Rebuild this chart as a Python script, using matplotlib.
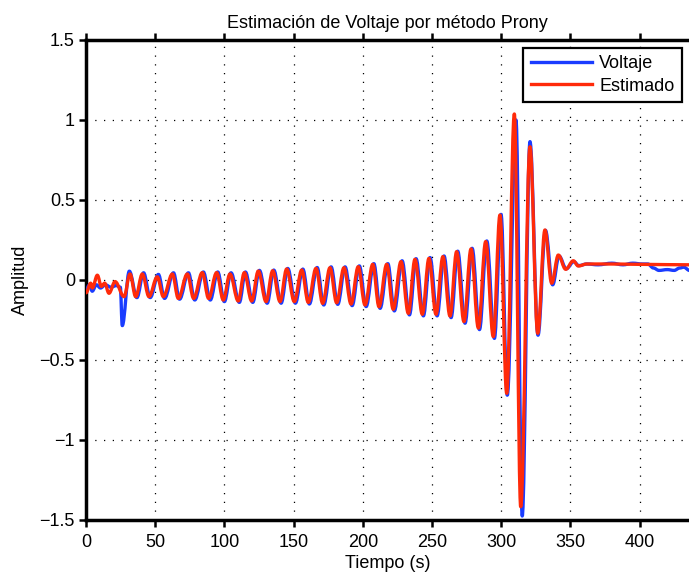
import matplotlib

matplotlib.use("Agg")
import matplotlib.pyplot as plt  # noqa: E402
from matplotlib.lines import Line2D  # noqa: E402
from matplotlib.patches import PathPatch  # noqa: E402
from matplotlib.path import Path  # noqa: E402

# extrema of the measured signal (time in s, amplitude)
volt_t = [0, 2.5, 4.5, 7.5, 10.5, 14.0, 18.0, 22.0, 24.8, 26.2, 31.3, 36.8, 41.6, 46.4, 52.3,
          56.8, 63.2, 67.6, 74.0, 78.6, 84.8, 89.8, 95.2, 100.0, 104.8, 110.8, 115.2, 120.5,
          125.3, 130.9, 135.7, 141.0, 145.8, 151.3, 156.7, 161.4, 167.0, 171.8, 177.1, 181.9,
          187.2, 192.3, 197.5, 202.4, 208.0, 212.5, 218.1, 222.8, 228.4, 233.7, 238.5, 243.8,
          248.6, 253.7, 258.7, 263.8, 268.6, 273.9, 279.0, 284.3, 289.6, 295.1, 299.9, 304.4,
          310.7, 315.2, 320.8, 326.6, 332.0, 337.2, 341.8, 347.0, 352.5, 356.0, 362, 370, 380,
          388, 395, 402, 406, 410, 414, 420, 425, 429, 432, 436]
volt_v = [-0.06, -0.03, -0.07, -0.03, -0.05, -0.03, -0.045, -0.035, -0.045, -0.285, 0.055,
          -0.11, 0.045, -0.11, 0.035, -0.115, 0.045, -0.12, 0.045, -0.125, 0.05, -0.125, 0.05,
          -0.135, 0.045, -0.14, 0.05, -0.14, 0.06, -0.145, 0.062, -0.145, 0.072, -0.145, 0.068,
          -0.15, 0.078, -0.156, 0.082, -0.152, 0.082, -0.16, 0.088, -0.166, 0.102, -0.177, 0.102,
          -0.193, 0.12, -0.218, 0.133, -0.224, 0.14, -0.224, 0.15, -0.235, 0.18, -0.27, 0.198,
          -0.31, 0.244, -0.365, 0.41, -0.72, 1.0, -1.475, 0.865, -0.345, 0.31, -0.03, 0.15, 0.07,
          0.115, 0.09, 0.10, 0.095, 0.105, 0.095, 0.105, 0.10, 0.10, 0.075, 0.06, 0.065, 0.06,
          0.075, 0.08, 0.06]

# extrema of the Prony estimate
est_t = [0, 3.4, 4.6, 8.2, 11.1, 13.5, 16.6, 21.0, 27.5, 31.8, 35.9, 40.7, 45.5, 51.5, 55.9,
         62.4, 66.7, 73.2, 77.8, 84.0, 88.6, 94.4, 99.2, 104.0, 110.0, 114.4, 119.7, 124.5,
         130.1, 134.9, 140.2, 145.0, 150.5, 155.9, 160.6, 166.2, 171.0, 176.3, 181.1, 186.4,
         191.5, 196.7, 201.6, 207.2, 211.7, 217.3, 222.0, 227.6, 232.9, 237.7, 243.0, 247.8,
         252.9, 257.9, 263.0, 267.8, 273.1, 278.2, 283.5, 288.8, 294.3, 299.1, 304.0, 309.5,
         314.1, 320.8, 326.4, 331.6, 336.5, 341.3, 346.6, 352.1, 355.7, 361.8, 380, 400, 420, 436]
est_v = [-0.08, -0.02, -0.05, 0.03, -0.04, -0.02, -0.083, -0.01, -0.104, 0.0375, -0.104, 0.0375,
         -0.104, 0.02, -0.104, 0.0375, -0.115, 0.0375, -0.115, 0.046, -0.115, 0.046, -0.125,
         0.0375, -0.131, 0.046, -0.131, 0.056, -0.135, 0.058, -0.135, 0.069, -0.135, 0.0625,
         -0.14, 0.073, -0.146, 0.077, -0.142, 0.077, -0.15, 0.083, -0.156, 0.098, -0.167, 0.098,
         -0.183, 0.115, -0.208, 0.129, -0.214, 0.135, -0.214, 0.146, -0.225, 0.177, -0.26, 0.194,
         -0.30, 0.24, -0.354, 0.406, -0.708, 1.0375, -1.417, 0.833, -0.333, 0.3125, -0.02, 0.156,
         0.067, 0.12, 0.0875, 0.10, 0.10, 0.098, 0.096, 0.095]

x_ticks = [0, 50, 100, 150, 200, 250, 300, 350, 400]
y_ticks = [-1.5, -1, -0.5, 0, 0.5, 1, 1.5]
y_tick_labels = ["\u22121.5", "\u22121", "\u22120.5", "0", "0.5", "1", "1.5"]

FONT = ["Liberation Sans", "DejaVu Sans"]
FS = 13
BLUE = "#1a3cff"
RED = "#ff2a0a"


def _wave_path(t, v, k=0.36):
    # cubic segments with flat tangents at each extremum
    verts = [(t[0], v[0])]
    codes = [Path.MOVETO]
    for i in range(1, len(t)):
        dt = t[i] - t[i - 1]
        verts += [(t[i - 1] + k * dt, v[i - 1]), (t[i] - k * dt, v[i]), (t[i], v[i])]
        codes += [Path.CURVE4] * 3
    return Path(verts, codes)


plt.rcParams["font.family"] = FONT

fig = plt.figure(figsize=(6.89, 5.74), dpi=100)
ax = fig.add_axes([86 / 689, 54 / 574, 603 / 689, 480 / 574])

for t, v, color in [(volt_t, volt_v, BLUE), (est_t, est_v, RED)]:
    ax.add_patch(PathPatch(_wave_path(t, v), facecolor="none", edgecolor=color,
                           linewidth=2.4, joinstyle="round", capstyle="round", zorder=3))

ax.set_xlim(0, 435.7)
ax.set_ylim(-1.5, 1.5)
ax.set_xticks(x_ticks)
ax.set_yticks(y_ticks)
ax.set_yticklabels(y_tick_labels)
ax.tick_params(direction="out", length=5, width=1.8, labelsize=FS, top=True, pad=3)
ax.tick_params(axis="x", pad=5)
for side in ["left", "bottom", "top"]:
    ax.spines[side].set_linewidth(2.5)
ax.spines["right"].set_visible(False)
ax.grid(True, color="black", linestyle=(0, (1, 6)), linewidth=0.9)

ax.set_title("Estimación de Voltaje por método Prony", fontsize=FS, pad=9)
ax.set_xlabel("Tiempo (s)", fontsize=FS)
ax.xaxis.set_label_coords(0.5, -0.072)
ax.set_ylabel("Amplitud", fontsize=FS)
ax.yaxis.set_label_coords(-0.095, 0.5)

handles = [Line2D([], [], color=BLUE, linewidth=2.4), Line2D([], [], color=RED, linewidth=2.4)]
leg = ax.legend(handles, ["Voltaje", "Estimado"], loc="upper right",
                bbox_to_anchor=(0.988, 0.983), fontsize=FS, fancybox=False,
                framealpha=1, edgecolor="black", handlelength=3.4, borderaxespad=0,
                borderpad=0.4, labelspacing=0.3, handletextpad=0.4)
leg.get_frame().set_linewidth(1.6)

fig.savefig("out.png", dpi=100)
